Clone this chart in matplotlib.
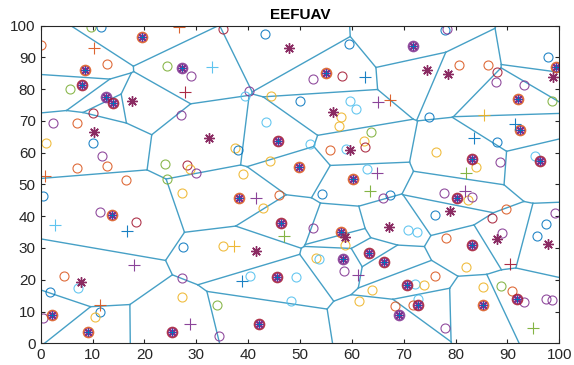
import numpy as np
import matplotlib
matplotlib.use("Agg")
import matplotlib.pyplot as plt
import matplotlib.tri as mtri

plt.rcParams['font.family'] = ['Liberation Sans', 'DejaVu Sans']

# MATLAB default colour order
cols = {'b': '#0072BD', 'o': '#D95319', 'y': '#EDB120', 'p': '#7E2F8E',
        'g': '#77AC30', 'c': '#4DBEEE', 'r': '#A2142F'}

# sensor nodes (plain circles)
node_x = [9.7, 11.6, 0.0, 12.8, 24.4, 29.0, 5.7, 10.0, 2.3, 7.0, 27.0, 1.1, 10.0, 11.8, 7.0,
          12.8, 24.0, 28.2, 28.7, 29.9, 16.5, 24.3, 35.1, 43.2, 59.4, 52.5, 58.1, 40.2, 39.4,
          44.5, 50.0, 59.6, 60.8, 57.9, 57.6, 43.4, 63.6, 62.4, 62.5, 37.4, 38.1, 51.9, 55.8,
          58.8, 44.2, 39.1, 62.9, 77.9, 78.4, 97.9, 80.7, 86.3, 88.0, 87.8, 93.1, 98.5, 74.9,
          88.0, 76.3, 83.9, 88.5, 95.3, 0.5, 27.2, 11.5, 18.4, 27.4, 4.4, 7.1, 1.8, 27.2, 27.2,
          11.4, 10.5, 0.5, 54.3, 46.0, 42.9, 52.5, 35.1, 58.6, 53.1, 53.7, 58.5, 40.4, 49.2,
          63.8, 61.4, 48.2, 33.9, 34.3, 67.3, 66.0, 77.7, 82.4, 83.2, 89.8, 99.1, 76.1, 87.0,
          97.4, 70.8, 72.5, 89.0, 95.7, 78.1, 82.1, 76.1, 72.1, 73.9, 85.3, 88.8, 90.8, 93.2,
          97.5, 98.5, 72.7, 71.7, 68.3, 77.9]
node_y = [99.7, 99.7, 93.8, 87.9, 87.3, 84.2, 80.0, 72.4, 69.3, 69.4, 71.7, 63.0, 63.0, 59.1, 55.3,
          55.8, 56.5, 56.0, 54.7, 53.6, 51.3, 51.8, 98.8, 97.3, 94.2, 83.2, 84.0, 79.5, 77.9,
          77.9, 76.1, 76.1, 73.8, 71.1, 68.5, 69.8, 66.4, 63.8, 61.7, 61.4, 60.7, 62.8, 60.7,
          61.2, 57.3, 53.2, 55.0, 98.6, 99.0, 90.0, 87.7, 87.7, 85.5, 82.1, 81.3, 76.4, 71.1,
          63.5, 60.2, 55.5, 57.0, 59.0, 46.4, 47.4, 41.2, 38.2, 30.4, 21.3, 17.3, 16.0, 20.5, 14.5,
          9.8, 8.4, 8.1, 46.9, 46.6, 42.6, 36.3, 30.6, 30.9, 26.7, 26.4, 22.6, 21.3, 21.0,
          16.8, 13.4, 13.4, 12.1, 2.2, 46.6, 45.8, 47.4, 45.0, 45.9, 42.4, 41.0, 40.3, 39.3,
          37.4, 35.8, 34.9, 34.6, 33.7, 33.0, 24.1, 21.3, 18.6, 18.4, 17.8, 18.1, 16.3, 13.0,
          14.0, 13.5, 14.0, 12.2, 11.6, 4.8]
node_c = list("gboogpgrpopybpoogrypog"
              "rbbprpcybccyycgyrybcocyyc"
              "bpboorppgbbyypc"
              "byprbocbpybyp"
              "boypyyycpccyycgp"
              "bppypopbrbccpboyocyygopppcoop")

# cluster heads that are also nodes (circle + star)
ch_x = [19.6, 27.3, 8.5, 8.0, 12.5, 14.0, 55.0, 45.8, 49.8, 60.2, 71.7, 99.4, 92.0, 92.5, 83.2,
        96.2, 13.7, 2.1, 9.1, 25.4, 38.3, 46.4, 58.0, 63.4, 58.2, 45.6, 42.1, 80.2, 83.2, 66.2,
        70.7, 72.7, 69.0, 85.2, 91.8]
ch_y = [96.5, 86.6, 86.0, 81.4, 77.6, 75.7, 85.1, 63.6, 55.5, 51.8, 93.6, 87.1, 76.9, 67.0, 57.9,
        57.3, 40.5, 9.0, 3.6, 3.7, 45.7, 37.7, 35.1, 28.3, 26.4, 20.8, 6.2, 45.6, 30.9, 25.5,
        18.2, 11.9, 8.8, 12.1, 14.0]
ch_c = list("oporp" "roroo" "pooor" "rooor" "ororp" "rrrrr" "rrpor")

# cluster heads without a node circle
star_x = [17.6, 10.3, 32.5, 47.9, 56.3, 59.6, 74.4, 78.6, 98.7, 7.7, 41.6, 58.7, 78.9, 67.2, 88.0, 97.9]
star_y = [76.1, 66.4, 64.6, 92.8, 72.7, 60.7, 86.0, 84.9, 83.9, 19.2, 29.0, 33.5, 41.6, 36.7, 32.7, 31.1]

# other markers (+)
plus_x = [26.7, 10.2, 27.8, 0.85, 33.0, 62.5, 65.0, 67.3, 85.5, 91.4, 83.5, 82.1, 64.8, 2.7,
          16.7, 18.0, 11.5, 28.8, 63.5, 41.5, 46.9, 37.3, 61.2, 38.9, 81.8, 90.5, 95.0]
plus_y = [99.6, 92.9, 79.2, 52.6, 86.8, 83.7, 75.9, 76.7, 71.9, 69.1, 64.6, 53.7, 53.5, 37.2,
          35.4, 24.7, 12.1, 6.1, 47.8, 45.6, 33.8, 30.6, 21.5, 19.6, 47.8, 24.9, 4.8]
plus_c = list("oorocbpoybbgpcbpopgpgypbprg")

fig = plt.figure(figsize=(5.74, 3.65), dpi=100)
ax = fig.add_axes([0.0709, 0.0595, 0.9035, 0.8705])

# voronoi of all cluster heads, built from the delaunay triangulation
gx = np.array(ch_x + star_x)
gy = np.array(ch_y + star_y)
pts = np.column_stack([gx, gy])
tri = mtri.Triangulation(gx, gy)
T = tri.triangles
cc = []
for t in T:
    a, b, c = pts[t[0]], pts[t[1]], pts[t[2]]
    d = 2 * (a[0]*(b[1]-c[1]) + b[0]*(c[1]-a[1]) + c[0]*(a[1]-b[1]))
    ux = ((a@a)*(b[1]-c[1]) + (b@b)*(c[1]-a[1]) + (c@c)*(a[1]-b[1])) / d
    uy = ((a@a)*(c[0]-b[0]) + (b@b)*(a[0]-c[0]) + (c@c)*(b[0]-a[0])) / d
    cc.append([ux, uy])
cc = np.array(cc)
center = pts.mean(axis=0)
vcol = '#46a0c6'
for i in range(len(T)):
    for j in range(3):
        nb = tri.neighbors[i, j]
        if nb > i:
            ax.plot([cc[i, 0], cc[nb, 0]], [cc[i, 1], cc[nb, 1]], color=vcol, lw=1)
        elif nb == -1:
            # open cell: ray pointing away from the middle
            p = pts[T[i, j]]
            q = pts[T[i, (j+1) % 3]]
            tvec = (q - p) / np.linalg.norm(q - p)
            n = np.array([-tvec[1], tvec[0]])
            mid = (p + q) / 2
            direc = np.sign(np.dot(mid - center, n)) * n
            far = cc[i] + direc * 500
            ax.plot([cc[i, 0], far[0]], [cc[i, 1], far[1]], color=vcol, lw=1)

# asterisk like matlab '*'
ast = (8, 2, 0)

for x, y, c in zip(node_x, node_y, node_c):
    ax.plot(x, y, 'o', mfc='none', mec=cols[c], ms=6.5, mew=0.8, alpha=0.85)
for x, y, c in zip(ch_x, ch_y, ch_c):
    ax.plot(x, y, 'o', mfc='none', mec=cols[c], ms=7, mew=1.4, alpha=0.85)
    ax.plot(x, y, marker=ast, color=cols['p'], ms=6.5, mew=1.0, ls='none')
    ax.plot(x, y, '+', color=cols['b'], ms=5, mew=0.7)
for x, y in zip(star_x, star_y):
    ax.plot(x, y, marker=ast, color='#8a2a62', ms=7.5, mew=1.0, ls='none')
for x, y, c in zip(plus_x, plus_y, plus_c):
    ax.plot(x, y, '+', color=cols[c], ms=8, mew=0.8, alpha=0.9)

ax.set_xlim(0, 100)
ax.set_ylim(0, 100)
ax.set_xticks(np.arange(0, 101, 10))
ax.set_yticks(np.arange(0, 101, 10))
ax.tick_params(direction='in', length=3, labelsize=11, top=True, right=True,
               labeltop=False, labelright=False, color='#262626', labelcolor='#262626')
for s in ax.spines.values():
    s.set_color('#262626')
    s.set_linewidth(0.8)
ax.set_title('EEFUAV', fontsize=11, fontweight='bold', pad=5)

fig.savefig('out.png', dpi=100)
